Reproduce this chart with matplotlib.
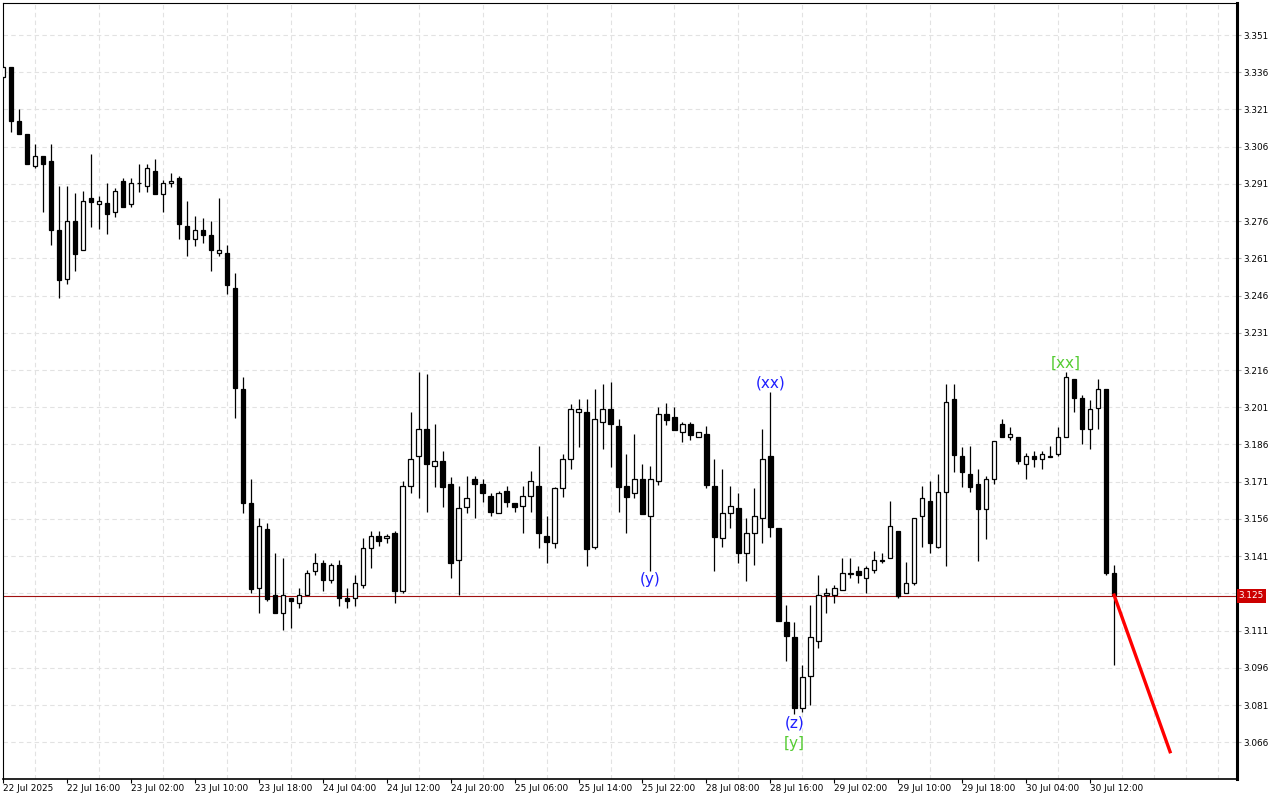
import numpy as np
import matplotlib
matplotlib.use('Agg')
import matplotlib.pyplot as plt
import matplotlib.transforms as mtransforms

# H1 candles
opens = [3.3340, 3.3380, 3.3162, 3.3110, 3.2981, 3.3021, 3.3001, 3.2723, 3.2528, 3.2759,
         3.2642, 3.2853, 3.2830, 3.2832, 3.2798, 3.2920, 3.2830, 3.2912, 3.2900, 3.2961,
         3.2870, 3.2912, 3.2933, 3.2739, 3.2689, 3.2723, 3.2703, 3.2630, 3.2631, 3.2490,
         3.2082, 3.1623, 3.1280, 3.1520, 3.1252, 3.1180, 3.1240, 3.1220, 3.1252, 3.1350,
         3.1381, 3.1312, 3.1373, 3.1240, 3.1240, 3.1292, 3.1441, 3.1490, 3.1482, 3.1502,
         3.1271, 3.1691, 3.1812, 3.1921, 3.1772, 3.1793, 3.1699, 3.1393, 3.1609, 3.1721,
         3.1699, 3.1652, 3.1582, 3.1671, 3.1623, 3.1612, 3.1651, 3.1691, 3.1490, 3.1462,
         3.1683, 3.1800, 3.1990, 3.1992, 3.1448, 3.1949, 3.2002, 3.1933, 3.1691, 3.1663,
         3.1721, 3.1570, 3.1711, 3.1981, 3.1969, 3.1911, 3.1941, 3.1891, 3.1901, 3.1691,
         3.1482, 3.1582, 3.1604, 3.1421, 3.1502, 3.1562, 3.1813, 3.1523, 3.1143, 3.1085,
         3.0799, 3.0928, 3.1068, 3.1252, 3.1252, 3.1273, 3.1338, 3.1351, 3.1321, 3.1353,
         3.1391, 3.1401, 3.1511, 3.1260, 3.1300, 3.1570, 3.1632, 3.1448, 3.1670, 3.2042,
         3.1812, 3.1740, 3.1699, 3.1601, 3.1720, 3.1941, 3.1891, 3.1892, 3.1780, 3.1812,
         3.1800, 3.1811, 3.1820, 3.1892, 3.2122, 3.2049, 3.1921, 3.2009, 3.2082, 3.1341]
highs = [3.3385, 3.3380, 3.3211, 3.3110, 3.3070, 3.3021, 3.3070, 3.2901, 3.2901, 3.2872,
         3.2880, 3.3029, 3.2862, 3.2912, 3.2892, 3.2933, 3.2933, 3.2989, 3.2989, 3.3009,
         3.2925, 3.2953, 3.2940, 3.2840, 3.2782, 3.2771, 3.2759, 3.2853, 3.2662, 3.2550,
         3.2131, 3.1721, 3.1562, 3.1542, 3.1421, 3.1401, 3.1240, 3.1280, 3.1354, 3.1421,
         3.1394, 3.1381, 3.1394, 3.1280, 3.1333, 3.1482, 3.1511, 3.1511, 3.1500, 3.1511,
         3.1713, 3.1990, 3.2151, 3.2143, 3.1941, 3.1834, 3.1730, 3.1693, 3.1733, 3.1733,
         3.1721, 3.1663, 3.1672, 3.1693, 3.1623, 3.1693, 3.1753, 3.1854, 3.1572, 3.1690,
         3.1822, 3.2024, 3.2043, 3.2043, 3.2083, 3.2104, 3.2113, 3.1961, 3.1822, 3.1901,
         3.1781, 3.1773, 3.2012, 3.2026, 3.2012, 3.1952, 3.1952, 3.1911, 3.1934, 3.1801,
         3.1762, 3.1691, 3.1663, 3.1565, 3.1683, 3.1922, 3.2073, 3.1523, 3.1213, 3.1146,
         3.0971, 3.1213, 3.1334, 3.1280, 3.1294, 3.1401, 3.1401, 3.1371, 3.1371, 3.1431,
         3.1421, 3.1632, 3.1511, 3.1385, 3.1562, 3.1693, 3.1713, 3.1740, 3.2104, 3.2104,
         3.1849, 3.1854, 3.1760, 3.1732, 3.1873, 3.1961, 3.1932, 3.1892, 3.1824, 3.1832,
         3.1832, 3.1853, 3.1932, 3.2151, 3.2122, 3.2061, 3.2041, 3.2122, 3.2082, 3.1374]
lows = [3.3335, 3.3120, 3.3110, 3.2989, 3.2973, 3.2798, 3.2662, 3.2451, 3.2508, 3.2560,
        3.2642, 3.2737, 3.2728, 3.2709, 3.2778, 3.2818, 3.2818, 3.2878, 3.2878, 3.2870,
        3.2798, 3.2899, 3.2689, 3.2621, 3.2661, 3.2671, 3.2560, 3.2621, 3.2468, 3.1968,
        3.1582, 3.1260, 3.1180, 3.1230, 3.1180, 3.1112, 3.1121, 3.1200, 3.1252, 3.1333,
        3.1271, 3.1300, 3.1210, 3.1200, 3.1210, 3.1280, 3.1361, 3.1450, 3.1462, 3.1220,
        3.1260, 3.1663, 3.1643, 3.1589, 3.1690, 3.1609, 3.1321, 3.1252, 3.1582, 3.1562,
        3.1629, 3.1573, 3.1582, 3.1609, 3.1589, 3.1502, 3.1589, 3.1441, 3.1381, 3.1441,
        3.1648, 3.1760, 3.1851, 3.1371, 3.1440, 3.1840, 3.1770, 3.1589, 3.1502, 3.1643,
        3.1581, 3.1351, 3.1697, 3.1938, 3.1918, 3.1871, 3.1878, 3.1891, 3.1683, 3.1351,
        3.1448, 3.1522, 3.1381, 3.1311, 3.1373, 3.1462, 3.1488, 3.1150, 3.0989, 3.0773,
        3.0783, 3.0810, 3.1038, 3.1180, 3.1220, 3.1273, 3.1321, 3.1300, 3.1260, 3.1341,
        3.1381, 3.1401, 3.1242, 3.1260, 3.1292, 3.1448, 3.1421, 3.1441, 3.1371, 3.1750,
        3.1690, 3.1670, 3.1391, 3.1479, 3.1699, 3.1891, 3.1880, 3.1781, 3.1720, 3.1770,
        3.1760, 3.1810, 3.1812, 3.1892, 3.1990, 3.1861, 3.1840, 3.1921, 3.1334, 3.0971]
closes = [3.3380, 3.3162, 3.3110, 3.2989, 3.3021, 3.2989, 3.2723, 3.2521, 3.2759, 3.2629,
          3.2840, 3.2838, 3.2841, 3.2790, 3.2880, 3.2818, 3.2912, 3.2913, 3.2973, 3.2870,
          3.2912, 3.2920, 3.2750, 3.2689, 3.2723, 3.2703, 3.2642, 3.2642, 3.2501, 3.2089,
          3.1623, 3.1279, 3.1530, 3.1238, 3.1180, 3.1252, 3.1230, 3.1252, 3.1341, 3.1381,
          3.1312, 3.1373, 3.1240, 3.1230, 3.1300, 3.1441, 3.1490, 3.1470, 3.1490, 3.1271,
          3.1691, 3.1800, 3.1921, 3.1780, 3.1792, 3.1690, 3.1381, 3.1603, 3.1643, 3.1699,
          3.1663, 3.1589, 3.1663, 3.1629, 3.1609, 3.1651, 3.1711, 3.1502, 3.1468, 3.1683,
          3.1800, 3.2002, 3.2002, 3.1440, 3.1961, 3.2002, 3.1941, 3.1690, 3.1648, 3.1721,
          3.1581, 3.1721, 3.1981, 3.1958, 3.1918, 3.1941, 3.1898, 3.1911, 3.1698, 3.1488,
          3.1582, 3.1612, 3.1421, 3.1502, 3.1572, 3.1801, 3.1528, 3.1150, 3.1089, 3.0799,
          3.0922, 3.1085, 3.1252, 3.1260, 3.1280, 3.1341, 3.1342, 3.1333, 3.1361, 3.1393,
          3.1394, 3.1531, 3.1249, 3.1300, 3.1562, 3.1643, 3.1462, 3.1670, 3.2030, 3.1819,
          3.1750, 3.1690, 3.1601, 3.1720, 3.1873, 3.1891, 3.1901, 3.1792, 3.1812, 3.1800,
          3.1820, 3.1813, 3.1892, 3.2131, 3.2049, 3.1921, 3.2002, 3.2082, 3.1341, 3.1253]

time_labels = ['22 Jul 2025', '22 Jul 16:00', '23 Jul 02:00', '23 Jul 10:00', '23 Jul 18:00',
               '24 Jul 04:00', '24 Jul 12:00', '24 Jul 20:00', '25 Jul 06:00', '25 Jul 14:00',
               '25 Jul 22:00', '28 Jul 08:00', '28 Jul 16:00', '29 Jul 02:00', '29 Jul 10:00',
               '29 Jul 18:00', '30 Jul 04:00', '30 Jul 12:00']
price_ticks = [3.351, 3.336, 3.321, 3.306, 3.291, 3.276, 3.261, 3.246, 3.231, 3.216,
               3.201, 3.186, 3.171, 3.156, 3.141, 3.126, 3.111, 3.096, 3.081, 3.066]
last_price = 3.125

# wave labels: (bar, text, color, above?)
wave_labels = [(96, '(xx)', '#1f1fff', True), (81, '(y)', '#1f1fff', False),
               (99, '(z)', '#1f1fff', False), (133, '[xx]', '#55cc33', True)]
sub_label = (99, '[y]', '#55cc33')

# forecast line: from last bar to 7 bars ahead
forecast_bars = [139, 146]
forecast_prices = [3.1253, 3.0622]

fig = plt.figure(figsize=(12.8, 8), dpi=100)
ax = fig.add_axes([3 / 1280, 21 / 800, 1234 / 1280, 776 / 800])

o = np.array(opens); h = np.array(highs); l = np.array(lows); c = np.array(closes)
x = np.arange(len(o))
up = c >= o

ax.vlines(x, l, h, color='black', lw=0.9, zorder=3)
body_lo = np.minimum(o, c)
body_h = np.maximum(np.abs(c - o), 0.00025)
ax.bar(x[up], body_h[up], bottom=body_lo[up], width=0.55, color='white',
       edgecolor='black', linewidth=0.9, zorder=4)
ax.bar(x[~up], body_h[~up], bottom=body_lo[~up], width=0.55, color='black',
       edgecolor='black', linewidth=0.9, zorder=4)

ax.axhline(last_price, color='#a01010', lw=0.8, zorder=2)
ax.plot(forecast_bars, forecast_prices, color='#ff0000', lw=2.4, zorder=5)

for bar, txt, col, above in wave_labels:
    if above:
        ax.annotate(txt, (bar, h[bar]), xytext=(0, 1), textcoords='offset points',
                    ha='center', va='bottom', color=col, fontsize=11)
    else:
        ax.annotate(txt, (bar, l[bar]), xytext=(0, -1), textcoords='offset points',
                    ha='center', va='top', color=col, fontsize=11)
ax.annotate(sub_label[1], (sub_label[0], l[sub_label[0]]), xytext=(0, -16),
            textcoords='offset points', ha='center', va='top', color=sub_label[2], fontsize=11)

ax.set_xlim(0.125, 154.375)
ax.set_ylim(3.0512, 3.3639)

ax.set_xticks(np.arange(0, 8 * len(time_labels), 8))
ax.set_xticklabels(time_labels, ha='left', fontsize=6.4)
ax.set_xticks(np.arange(0, 156, 4), minor=True)
ax.tick_params(axis='x', which='major', length=3, pad=0.5, width=0.8)
ax.tick_params(axis='x', which='minor', length=0)
ax.grid(axis='x', which='minor', ls=(0, (4, 3)), color='#e2e2e2', lw=0.8)

ax.yaxis.tick_right()
ax.set_yticks(price_ticks)
ax.set_yticklabels(['' if abs(p - 3.126) < 1e-6 else '%.3f' % p for p in price_ticks],
                   fontsize=6.4)
ax.tick_params(axis='y', length=3, pad=1.5, width=0.8, color='#aaaaaa')
ax.grid(axis='y', ls=(0, (4, 3)), color='#e2e2e2', lw=0.8)
ax.set_axisbelow(True)

for side in ['top', 'left']:
    ax.spines[side].set_linewidth(0.8)
ax.spines['right'].set_linewidth(2.2)
ax.spines['bottom'].set_linewidth(1.2)

trans = mtransforms.blended_transform_factory(ax.transAxes, ax.transData)
ax.text(1.0015, last_price, '%.3f' % last_price, transform=trans, fontsize=6.4,
        color='white', va='center', ha='left', clip_on=False,
        bbox=dict(boxstyle='square,pad=0.25', fc='#cc0000', ec='none'))

fig.savefig('out.png', dpi=100)
